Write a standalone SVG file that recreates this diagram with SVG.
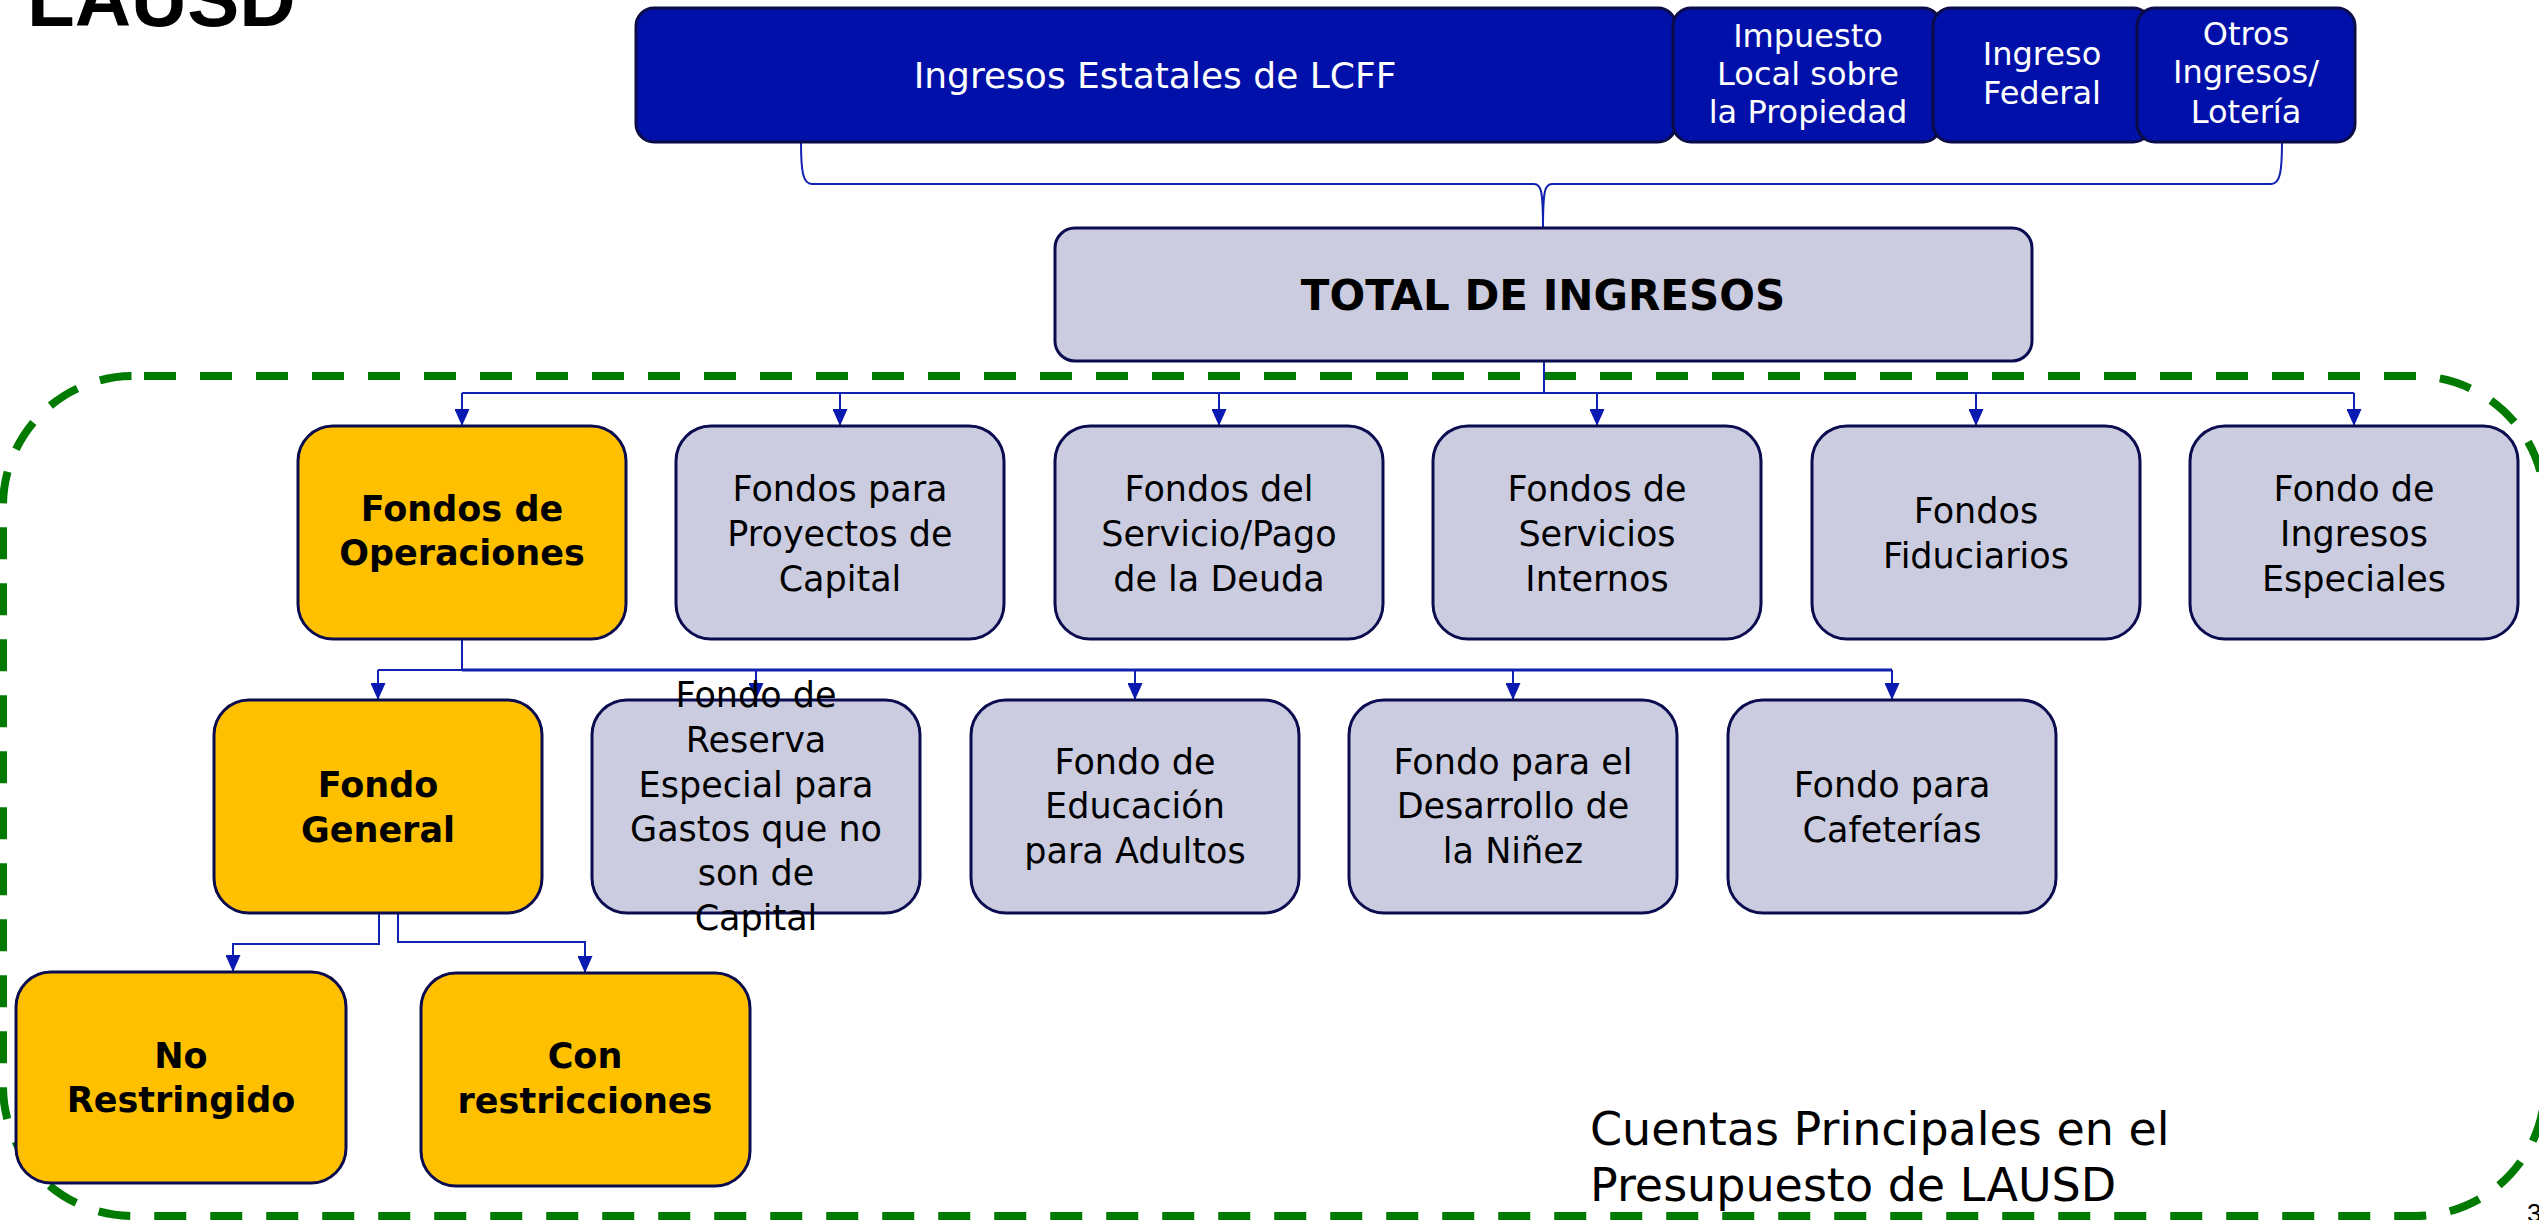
<svg xmlns="http://www.w3.org/2000/svg" width="2539" height="1220" viewBox="0 0 2539 1220">
<defs>
<style>
.top{fill:#0010A9;stroke:#0B0B48;stroke-width:3}
.lav{fill:#CBCCE0;stroke:#0B0B50;stroke-width:3}
.yel{fill:#FFC000;stroke:#0B0B50;stroke-width:3}
.wt{font-family:"DejaVu Sans",sans-serif;fill:#FFFFFF;text-anchor:middle}
.bt{font-family:"DejaVu Sans",sans-serif;fill:#000000;text-anchor:middle;font-size:35px}
.bb{font-family:"DejaVu Sans",sans-serif;fill:#000000;text-anchor:middle;font-size:35px;font-weight:bold}
.conn{fill:none;stroke:#1020B0;stroke-width:2}
.arr{fill:none;stroke:#1020B0;stroke-width:2;marker-end:url(#ah)}
</style>
<marker id="ah" markerUnits="userSpaceOnUse" markerWidth="17" markerHeight="15" refX="17" refY="7.5" orient="auto">
<path d="M0,0 L17,7.5 L0,15 Z" fill="#0A1AB0"/>
</marker>
</defs>
<rect width="2539" height="1220" fill="#FFFFFF"/>

<text x="27" y="26" font-family="Liberation Sans, Arial, sans-serif" font-weight="bold" font-size="78" fill="#000">LAUSD</text>

<g id="green-frame">
<rect x="3" y="376" width="2542" height="840" rx="130" ry="130" fill="none" stroke="#007A00" stroke-width="8" stroke-dasharray="32 24" stroke-dashoffset="45"/>
</g>

<g id="connectors">
<path class="conn" d="M801,142 C801,172 803,184 812,184 L1534,184 C1541,184 1543,190 1543,228"/>
<path class="conn" d="M2282,142 C2282,172 2280,184 2271,184 L1552,184 C1545,184 1543,190 1543,228"/>
<path class="conn" d="M1544,361 V393 M462,393 H2354"/>
<path class="arr" d="M462,393 V426"/>
<path class="arr" d="M840,393 V426"/>
<path class="arr" d="M1219,393 V426"/>
<path class="arr" d="M1597,393 V426"/>
<path class="arr" d="M1976,393 V426"/>
<path class="arr" d="M2354,393 V426"/>
<path class="conn" d="M462,639 V670 M378,670 H462"/>
<path class="conn" style="stroke-width:3" d="M462,670 H1892"/>
<path class="arr" d="M378,670 V700"/>
<path class="arr" d="M756,670 V700"/>
<path class="arr" d="M1135,670 V700"/>
<path class="arr" d="M1513,670 V700"/>
<path class="arr" d="M1892,670 V700"/>
<path class="arr" d="M379,913 V944 H233 V972"/>
<path class="arr" d="M398,913 V942 H585 V973"/>
</g>

<g id="n-ingresos-estatales">
<rect class="top" x="636" y="8" width="1040" height="134" rx="18"/>
<text class="wt" x="1155" y="88" font-size="36">Ingresos Estatales de LCFF</text>
</g>
<g id="n-impuesto">
<rect class="top" x="1673" y="8" width="268" height="134" rx="18"/>
<text class="wt" x="1808" y="47" font-size="32">Impuesto</text>
<text class="wt" x="1808" y="85" font-size="32">Local sobre</text>
<text class="wt" x="1808" y="123" font-size="32">la Propiedad</text>
</g>
<g id="n-federal">
<rect class="top" x="1933" y="8" width="218" height="134" rx="18"/>
<text class="wt" x="2042" y="65" font-size="32">Ingreso</text>
<text class="wt" x="2042" y="104" font-size="32">Federal</text>
</g>
<g id="n-otros">
<rect class="top" x="2137" y="8" width="218" height="134" rx="18"/>
<text class="wt" x="2246" y="45" font-size="32">Otros</text>
<text class="wt" x="2246" y="83" font-size="32">Ingresos/</text>
<text class="wt" x="2246" y="123" font-size="32">Lotería</text>
</g>

<g id="n-total">
<rect class="lav" x="1055" y="228" width="977" height="133" rx="20"/>
<text x="1543" y="310" font-family="DejaVu Sans, sans-serif" font-weight="bold" font-size="42" text-anchor="middle" fill="#000">TOTAL DE INGRESOS</text>
</g>

<g id="n-operaciones">
<rect class="yel" x="298" y="426" width="328" height="213" rx="35"/>
<text class="bb" x="462" y="521">Fondos de</text>
<text class="bb" x="462" y="565">Operaciones</text>
</g>
<g id="n-capital">
<rect class="lav" x="676" y="426" width="328" height="213" rx="35"/>
<text class="bt" x="840" y="501">Fondos para</text>
<text class="bt" x="840" y="546">Proyectos de</text>
<text class="bt" x="840" y="591">Capital</text>
</g>
<g id="n-deuda">
<rect class="lav" x="1055" y="426" width="328" height="213" rx="35"/>
<text class="bt" x="1219" y="501">Fondos del</text>
<text class="bt" x="1219" y="546">Servicio/Pago</text>
<text class="bt" x="1219" y="591">de la Deuda</text>
</g>
<g id="n-internos">
<rect class="lav" x="1433" y="426" width="328" height="213" rx="35"/>
<text class="bt" x="1597" y="501">Fondos de</text>
<text class="bt" x="1597" y="546">Servicios</text>
<text class="bt" x="1597" y="591">Internos</text>
</g>
<g id="n-fiduciarios">
<rect class="lav" x="1812" y="426" width="328" height="213" rx="35"/>
<text class="bt" x="1976" y="523">Fondos</text>
<text class="bt" x="1976" y="568">Fiduciarios</text>
</g>
<g id="n-especiales">
<rect class="lav" x="2190" y="426" width="328" height="213" rx="35"/>
<text class="bt" x="2354" y="501">Fondo de</text>
<text class="bt" x="2354" y="546">Ingresos</text>
<text class="bt" x="2354" y="591">Especiales</text>
</g>

<g id="n-general">
<rect class="yel" x="214" y="700" width="328" height="213" rx="35"/>
<text class="bb" x="378" y="797">Fondo</text>
<text class="bb" x="378" y="842">General</text>
</g>
<g id="n-reserva">
<rect class="lav" x="592" y="700" width="328" height="213" rx="35"/>
<text class="bt" x="756" y="707">Fondo de</text>
<text class="bt" x="756" y="752">Reserva</text>
<text class="bt" x="756" y="797">Especial para</text>
<text class="bt" x="756" y="841">Gastos que no</text>
<text class="bt" x="756" y="885">son de</text>
<text class="bt" x="756" y="930">Capital</text>
</g>
<g id="n-adultos">
<rect class="lav" x="971" y="700" width="328" height="213" rx="35"/>
<text class="bt" x="1135" y="774">Fondo de</text>
<text class="bt" x="1135" y="818">Educación</text>
<text class="bt" x="1135" y="863">para Adultos</text>
</g>
<g id="n-ninez">
<rect class="lav" x="1349" y="700" width="328" height="213" rx="35"/>
<text class="bt" x="1513" y="774">Fondo para el</text>
<text class="bt" x="1513" y="818">Desarrollo de</text>
<text class="bt" x="1513" y="863">la Niñez</text>
</g>
<g id="n-cafeterias">
<rect class="lav" x="1728" y="700" width="328" height="213" rx="35"/>
<text class="bt" x="1892" y="797">Fondo para</text>
<text class="bt" x="1892" y="842">Cafeterías</text>
</g>

<g id="n-no-restringido">
<rect class="yel" x="16" y="972" width="330" height="211" rx="35"/>
<text class="bb" x="181" y="1068">No</text>
<text class="bb" x="181" y="1112">Restringido</text>
</g>
<g id="n-con-restricciones">
<rect class="yel" x="421" y="973" width="329" height="213" rx="35"/>
<text class="bb" x="585" y="1068">Con</text>
<text class="bb" x="585" y="1113">restricciones</text>
</g>

<text x="1590" y="1145" font-family="DejaVu Sans, sans-serif" font-size="46" fill="#000">Cuentas Principales en el</text>
<text x="1590" y="1201" font-family="DejaVu Sans, sans-serif" font-size="46" fill="#000">Presupuesto de LAUSD</text>
<text x="2527" y="1222" font-family="Liberation Sans, Arial, sans-serif" font-size="26" fill="#000">3</text>
</svg>
